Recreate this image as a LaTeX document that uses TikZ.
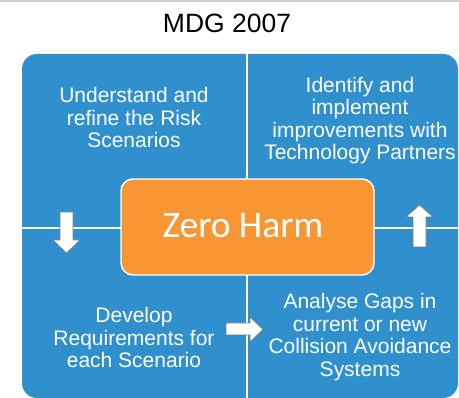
\documentclass[tikz,border=0pt]{standalone}
\usepackage{fontspec}
\setmainfont{Liberation Sans}
\newfontfamily\zhfont{Carlito}
\definecolor{quadblue}{RGB}{48,144,205}
\definecolor{hub}{RGB}{247,150,50}
\definecolor{arrowedge}{RGB}{120,120,120}
\tikzset{
  quadtext/.style={text=white, align=center, font=\fontsize{21}{22.5}\selectfont, inner sep=0pt},
  divider/.style={draw=white, line width=1.8pt},
  blockarrow/.style={fill=white, draw=arrowedge, line width=0.6pt, line join=miter},
}
\begin{document}
\begin{tikzpicture}[x=1pt,y=-1pt]
  \useasboundingbox (0,0) rectangle (459,398);
  \fill[white] (0,0) rectangle (459,398);
  % thin frame line along the top
  \fill[black!18] (0,0) rectangle (459,1.6);
  \node[font=\fontsize{26.5}{30}\selectfont, anchor=base] (title) at (227,33) {MDG 2007};

  % blue field split into four quadrants
  \fill[quadblue, rounded corners=15pt] (22,54) rectangle (458,398);
  \draw[divider] (247,54) -- (247,398);
  \draw[divider] (22,228) -- (458,228);

  % central goal
  \node[fill=hub, draw=white, line width=1.4pt, rounded corners=12pt,
        minimum width=253pt, minimum height=96pt, inner sep=0pt] (zh) at (247.5,227) {};
  \node[text=white, font=\zhfont\fontsize{37.5}{40}\selectfont, anchor=base] (zhlabel) at (243,238) {Zero Harm};

  % quadrant texts
  \node[quadtext] (tl) at (134,117.5) {Understand and\\refine the Risk\\Scenarios};
  \node[quadtext] (tr) at (360,120.5) {Identify and\\implement\\improvements with\\Technology Partners};
  \node[quadtext] (bl) at (134,337.5) {Develop\\Requirements for\\each Scenario};
  \node[quadtext] (br) at (360,337) {Analyse Gaps in\\current or new\\Collision Avoidance\\Systems};

  % block arrows showing the cycle
  \draw[blockarrow] (60,212) -- (73,212) -- (73,240) -- (80,240) -- (66.5,253) -- (53,240) -- (60,240) -- cycle;
  \draw[blockarrow] (226,323) -- (250,323) -- (250,317) -- (263,329.5) -- (250,342) -- (250,335) -- (226,335) -- cycle;
  \draw[blockarrow] (413,247) -- (413,217) -- (406,217) -- (419.5,205) -- (433,217) -- (426,217) -- (426,247) -- cycle;
\end{tikzpicture}
\end{document}
